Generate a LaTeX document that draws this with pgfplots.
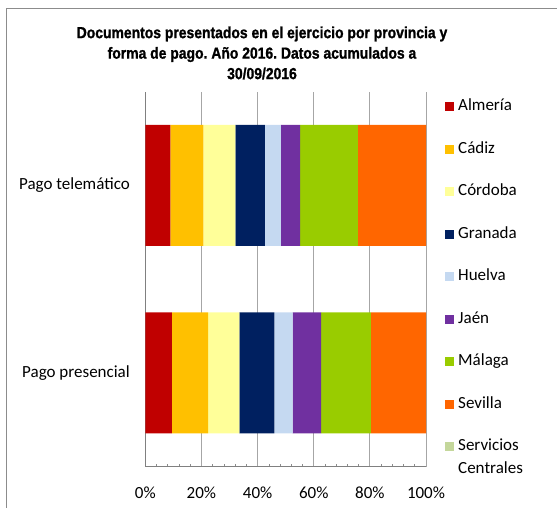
\documentclass[border=0pt]{standalone}
\usepackage{fontspec}
\setmainfont{Carlito}
\newfontfamily\titlefont{Liberation Sans}[FakeStretch=0.87, BoldFeatures={FakeBold=1.2}]
\usepackage{pgfplots}
\pgfplotsset{compat=1.18}
\definecolor{almeria}{HTML}{C00000}
\definecolor{cadiz}{HTML}{FFC000}
\definecolor{cordoba}{HTML}{FFFF99}
\definecolor{granada}{HTML}{002060}
\definecolor{huelva}{HTML}{C5D9F1}
\definecolor{jaen}{HTML}{7030A0}
\definecolor{malaga}{HTML}{99CC00}
\definecolor{sevilla}{HTML}{FF6600}
\definecolor{sscc}{HTML}{C4D79B}
\frenchspacing
\begin{document}
\begin{tikzpicture}
\useasboundingbox (0,0) rectangle (557pt,507pt);
\draw[color=black!45, line width=0.8pt] (6pt,-2pt) -- (6pt,499pt) -- (560pt,499pt);
\node[align=center, font=\titlefont\bfseries\fontsize{16}{20.5}\selectfont] at (262pt,454pt)
  {Documentos presentados en el ejercicio por provincia y\\forma de pago. Año 2016. Datos acumulados a\\30/09/2016};
\begin{axis}[
  at={(145.3pt,40.3pt)}, anchor=south west,
  scale only axis, width=280.7pt, height=375pt,
  xbar stacked, bar width=121pt,
  xmin=0, xmax=100, ymin=-0.5, ymax=1.5,
  xtick={0,20,...,100}, xticklabel={\pgfmathprintnumber{\tick}\%},
  /pgf/number format/assume math mode=true,
  minor x tick num=4,
  ytick={0,1}, yticklabels={Pago presencial,Pago telemático},
  axis lines*=left,
  axis line style={color=black!50, line width=0.9pt},
  xmajorgrids, grid style={color=black!35, line width=0.8pt},
  major tick length=0pt, minor tick length=3pt, tick align=inside,
  minor tick style={color=black!45, line width=0.6pt},
  tick label style={font=\fontsize{17}{20}\selectfont},
  x tick label style={yshift=-17pt},
  y tick label style={xshift=-12pt},
  legend style={at={(1.0677,0.995)}, anchor=north west, draw=none, fill=none,
    inner sep=0pt, row sep=16.5pt, font=\fontsize{17}{22.5}\selectfont,
    nodes={inner xsep=4pt, inner ysep=5pt, text height=12pt, text depth=4pt}},
  legend cell align=left,
  legend image code/.code={\path[#1,draw=none] (0pt,-4.5pt) rectangle (9pt,4.5pt);},
]
\addplot[fill=almeria, draw=none] coordinates {(8.9,1) (9.5,0)};
\addplot[fill=cadiz, draw=none] coordinates {(11.8,1) (12.9,0)};
\addplot[fill=cordoba, draw=none] coordinates {(11.4,1) (11.1,0)};
\addplot[fill=granada, draw=none] coordinates {(10.5,1) (12.5,0)};
\addplot[fill=huelva, draw=none] coordinates {(5.7,1) (6.5,0)};
\addplot[fill=jaen, draw=none] coordinates {(6.9,1) (10.1,0)};
\addplot[fill=malaga, draw=none] coordinates {(20.5,1) (17.8,0)};
\addplot[fill=sevilla, draw=none] coordinates {(24.3,1) (19.6,0)};
\addplot[fill=sscc, draw=none] coordinates {(0,1) (0,0)};
\legend{Almería,Cádiz,Córdoba,Granada,Huelva,Jaén,Málaga,Sevilla,
  {\begin{tabular}[t]{@{}l@{}}Servicios\\Centrales\end{tabular}}}
\end{axis}
\end{tikzpicture}
\end{document}
